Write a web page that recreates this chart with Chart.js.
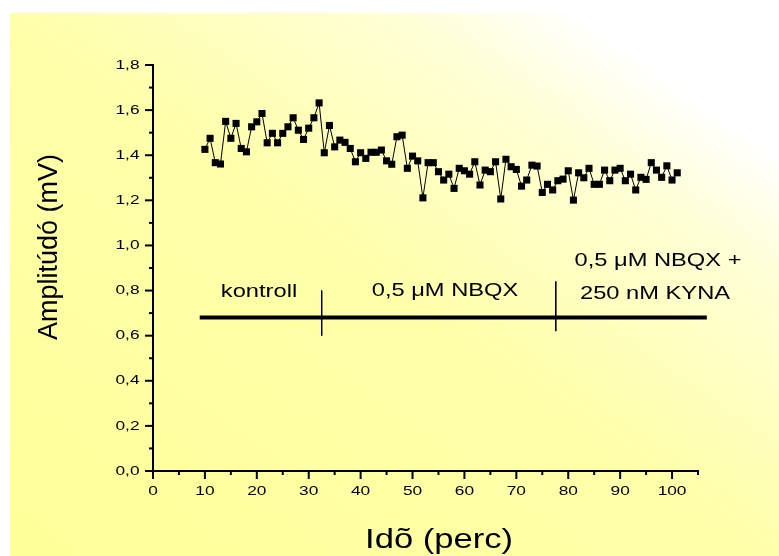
<!DOCTYPE html>
<html>
<head>
<meta charset="utf-8">
<style>
  body { margin: 0; background: #fff; }
</style>
</head>
<body>
<canvas id="mychart" width="779" height="556"></canvas>
<script src="https://cdn.jsdelivr.net/npm/chart.js@4.4.0/dist/chart.umd.min.js"></script>
<script>

// time (min) and amplitude (mV)
var minutes = [10, 11, 12, 13, 14, 15, 16, 17, 18, 19, 20, 21, 22, 23, 24, 25, 26, 27, 28, 29,
  30, 31, 32, 33, 34, 35, 36, 37, 38, 39, 40, 41, 42, 43, 44, 45, 46, 47, 48, 49,
  50, 51, 52, 53, 54, 55, 56, 57, 58, 59, 60, 61, 62, 63, 64, 65, 66, 67, 68, 69,
  70, 71, 72, 73, 74, 75, 76, 77, 78, 79, 80, 81, 82, 83, 84, 85, 86, 87, 88, 89,
  90, 91, 92, 93, 94, 95, 96, 97, 98, 99, 100, 101];

var amplitude = [1.426, 1.475, 1.367, 1.361, 1.55, 1.475, 1.541, 1.43, 1.415, 1.526,
  1.548, 1.585, 1.455, 1.497, 1.455, 1.497, 1.526, 1.566, 1.511, 1.47,
  1.52, 1.566, 1.632, 1.411, 1.532, 1.437, 1.467, 1.457, 1.43, 1.371,
  1.411, 1.386, 1.413, 1.413, 1.423, 1.375, 1.36, 1.482, 1.489, 1.342,
  1.396, 1.375, 1.211, 1.367, 1.367, 1.327, 1.29, 1.316, 1.253, 1.342,
  1.331, 1.316, 1.371, 1.268, 1.334, 1.327, 1.371, 1.206, 1.382, 1.349,
  1.337, 1.263, 1.29, 1.356, 1.352, 1.235, 1.271, 1.246, 1.287, 1.294,
  1.331, 1.201, 1.322, 1.30, 1.342, 1.271, 1.271, 1.334, 1.287, 1.334,
  1.342, 1.287, 1.316, 1.246, 1.302, 1.293, 1.367, 1.334, 1.302, 1.353,
  1.29, 1.322];

// treatment bar and the two switch points
var barX = [9, 106.7];
var barY = 0.68;
var switchX = [32.5, 77.6];
var switchTop = [0.80, 0.84];
var switchBottom = [0.60, 0.62];

var labels = ['kontroll', '0,5 \u03BCM NBQX', '0,5 \u03BCM NBQX +', '250 nM KYNA'];
var xTitle = 'Id\u00F5 (perc)';
var yTitle = 'Amplitúdó (mV)';

var points = minutes.map(function(m, i){
  return {x: m, y: amplitude[i]};
});

var FONT = '"Liberation Sans", Arial, sans-serif';
var STRETCH = 1.28;  // the original text is drawn a bit wide

function wideText(ctx, text, x, y, align){
  ctx.save();
  ctx.translate(x, y);
  ctx.scale(STRETCH, 1);
  ctx.textAlign = align;
  ctx.fillText(text, 0, 0);
  ctx.restore();
}

var background = {
  id: 'background',
  beforeDraw: function(chart){
    var ctx = chart.ctx;
    ctx.save();
    ctx.fillStyle = '#fff';
    ctx.fillRect(0, 0, chart.width, chart.height);
    var g = ctx.createLinearGradient(138, 647, 650, -78);
    g.addColorStop(0, '#ffff99');
    g.addColorStop(0.5, '#ffffab');
    g.addColorStop(0.75, '#ffffd6');
    g.addColorStop(0.87, '#ffffff');
    ctx.fillStyle = g;
    ctx.fillRect(10, 13, chart.width - 10, chart.height - 13);
    ctx.restore();
  }
};

// major / minor tick marks pointing outwards, plus the tick labels
var tickMarks = {
  id: 'tickMarks',
  afterDraw: function(chart){
    var ctx = chart.ctx;
    var xs = chart.scales.x, ys = chart.scales.y;
    var area = chart.chartArea;
    ctx.save();
    ctx.strokeStyle = '#000';
    ctx.fillStyle = '#000';
    ctx.lineWidth = 2;
    ctx.font = '13.5px ' + FONT;
    ctx.textBaseline = 'middle';
    xs.ticks.forEach(function(t){
      var px = xs.getPixelForValue(t.value);
      var major = Math.round(t.value) % 10 === 0;
      ctx.beginPath();
      ctx.moveTo(px, area.bottom);
      ctx.lineTo(px, area.bottom + (major ? 8 : 4));
      ctx.stroke();
      if (major) wideText(ctx, String(Math.round(t.value)), px, 491, 'center');
    });
    ys.ticks.forEach(function(t){
      var py = ys.getPixelForValue(t.value);
      var n = Math.round(t.value * 10);
      var major = n % 2 === 0;
      ctx.beginPath();
      ctx.moveTo(area.left, py);
      ctx.lineTo(area.left - (major ? 8 : 4), py);
      ctx.stroke();
      if (major) wideText(ctx, (n / 10).toFixed(1).replace('.', ','), 139.5, py, 'right');
    });
    ctx.restore();
  }
};

var texts = {
  id: 'texts',
  afterDraw: function(chart){
    var ctx = chart.ctx;
    ctx.save();
    ctx.fillStyle = '#000';
    ctx.textBaseline = 'middle';
    ctx.font = '18.5px ' + FONT;
    wideText(ctx, labels[0], 259, 292, 'center');
    wideText(ctx, labels[1], 445, 291, 'center');
    wideText(ctx, labels[2], 658, 261, 'center');
    wideText(ctx, labels[3], 655, 294, 'center');

    ctx.font = '27px ' + FONT;
    wideText(ctx, xTitle, 439, 541, 'center');
    ctx.translate(50, 247);
    ctx.rotate(-Math.PI / 2);
    ctx.textAlign = 'center';
    ctx.fillText(yTitle, 0, 0);
    ctx.restore();
  }
};

var datasets = [{
  data: points,
  borderColor: '#000',
  borderWidth: 1,
  pointStyle: 'rect',
  pointRadius: 5,
  pointBackgroundColor: '#000',
  pointBorderWidth: 0,
  tension: 0
}, {
  data: [{x: barX[0], y: barY}, {x: barX[1], y: barY}],
  borderColor: '#000',
  borderWidth: 4,
  pointRadius: 0,
  clip: false
}];

switchX.forEach(function(sx, i){
  datasets.push({
    data: [{x: sx, y: switchTop[i]}, {x: sx, y: switchBottom[i]}],
    borderColor: '#000',
    borderWidth: 1,
    pointRadius: 0
  });
});

let mychart = document.getElementById('mychart').getContext('2d');

let ampChart = new Chart(mychart, {
  type: 'line',
  data: { datasets: datasets },
  plugins: [background, tickMarks, texts],
  options: {
    responsive: false,
    animation: false,
    layout: { padding: { left: 0, top: 65, right: 81, bottom: 0 } },
    plugins: {
      legend: { display: false },
      tooltip: { enabled: false }
    },
    scales: {
      x: {
        type: 'linear',
        min: 0,
        max: 105,
        afterFit: function(s){ s.height = 85; },
        grid: { display: false, drawTicks: false },
        border: { display: true, color: '#000', width: 2 },
        ticks: { display: false, stepSize: 5, includeBounds: false, autoSkip: false }
      },
      y: {
        type: 'linear',
        min: 0,
        max: 1.8,
        afterFit: function(s){ s.width = 153; },
        grid: { display: false, drawTicks: false },
        border: { display: true, color: '#000', width: 2 },
        ticks: { display: false, stepSize: 0.1, autoSkip: false }
      }
    }
  }
});

</script>
</body>
</html>
